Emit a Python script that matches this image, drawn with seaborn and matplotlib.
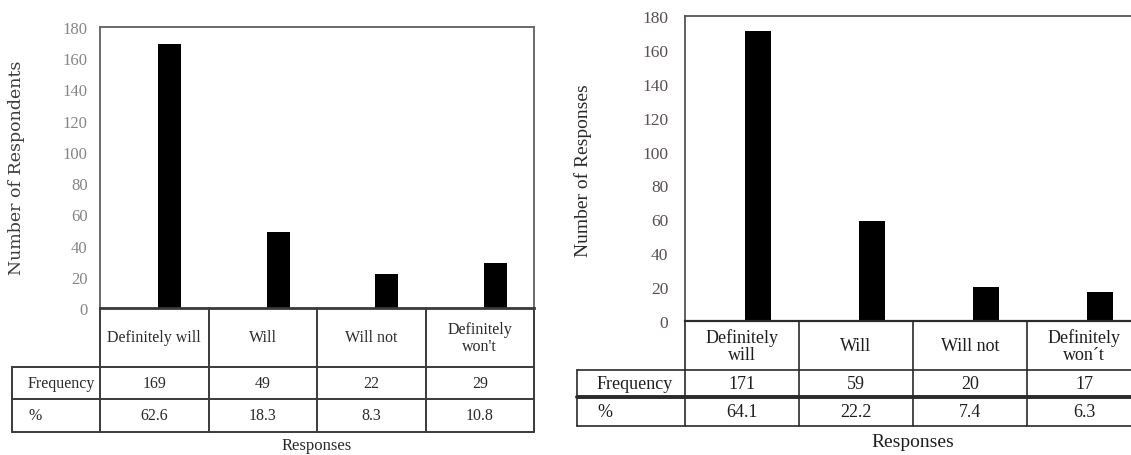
import matplotlib
matplotlib.use("Agg")
import matplotlib.pyplot as plt
import seaborn as sns
import pandas as pd

# ---- data -------------------------------------------------------------
cats_left = ["Definitely will", "Will", "Will not", "Definitely\nwon't"]
freq_left = [169, 49, 22, 29]
pct_left = ["62.6", "18.3", "8.3", "10.8"]

cats_right = ["Definitely\nwill", "Will", "Will not", "Definitely\nwon\u00b4t"]
freq_right = [171, 59, 20, 17]
pct_right = ["64.1", "22.2", "7.4", "6.3"]

y_ticks = list(range(0, 181, 20))

sns.set_style("white")
plt.rcParams["font.family"] = ["Liberation Serif", "DejaVu Serif"]

W, H = 1131, 456
fig = plt.figure(figsize=(W / 100, H / 100), dpi=100)


def box(x0, y0, x1, y1):
    """Pixel box (top-left origin) -> figure fraction rect."""
    return [x0 / W, 1 - y1 / H, (x1 - x0) / W, (y1 - y0) / H]


def panel(cats, freqs, pcts, bar_box, lab_left, rows, bar_w, offset,
          ylabel, style):
    x0, y0, x1, y1 = bar_box
    ax = fig.add_axes(box(x0, y0, x1, y1))
    df = pd.DataFrame({"resp": cats, "n": freqs})
    sns.barplot(data=df, x="resp", y="n", ax=ax, color="black",
                saturation=1, width=bar_w, linewidth=0, order=cats)
    ax.set_xlim(-0.5 - offset, 3.5 - offset)
    ax.set_ylim(0, 180)
    ax.set_yticks(y_ticks)
    ax.set_xticks([])
    ax.set_xlabel("")
    ax.set_ylabel("")
    ax.tick_params(axis="y", length=0, pad=style["tick_pad"],
                   labelsize=style["tick_size"], labelcolor=style["tick_color"])
    for s in ax.spines.values():
        s.set_color(style["frame_color"])
        s.set_linewidth(style["frame_lw"])
    ax.spines["bottom"].set_linewidth(style["zero_lw"])
    ax.spines["bottom"].set_color(style["line_color"])
    fig.text(style["ylab_x"] / W, 1 - style["ylab_y"] / H, ylabel,
             rotation=90, ha="center", va="center",
             fontsize=style["ylab_size"], color=style["ylab_color"],
             family=style["ylab_family"])

    # table under the bars, one column per category
    cell = (x1 - x0) / 4
    lab_w = (x0 - lab_left) / cell
    total = sum(rows)
    tax = fig.add_axes(box(lab_left, y1, x1, y1 + total))
    tax.set_xlim(-lab_w, 4)
    tax.set_ylim(total, 0)
    tax.axis("off")
    lc, lw = style["line_color"], style["line_w"]
    r1 = rows[0]
    r2 = rows[0] + rows[1]
    tax.plot([-lab_w, 4], [r1, r1], color=lc, lw=lw, clip_on=False)
    tax.plot([-lab_w, 4], [r2, r2], color=lc, lw=style["mid_lw"], clip_on=False)
    tax.plot([-lab_w, 4], [total, total], color=lc, lw=lw, clip_on=False)
    tax.plot([-lab_w, -lab_w], [r1, total], color=lc, lw=lw, clip_on=False)
    for k in range(5):
        tax.plot([k, k], [0, total], color=lc, lw=lw, clip_on=False)
    fs = style["cell_size"]
    tc = style["text_color"]
    for i, c in enumerate(cats):
        tax.text(i + 0.5, r1 / 2, c, ha="center", va="center", fontsize=fs,
                 color=tc, linespacing=1.05)
        tax.text(i + 0.5, (r1 + r2) / 2, str(freqs[i]), ha="center",
                 va="center", fontsize=fs, color=tc)
        tax.text(i + 0.5, (r2 + total) / 2, pcts[i], ha="center",
                 va="center", fontsize=fs, color=tc)
    pad = style["row_pad"] / cell
    tax.text(-lab_w + pad, (r1 + r2) / 2, "Frequency", ha="left",
             va="center", fontsize=fs, color=tc)
    tax.text(-lab_w + pad, (r2 + total) / 2, "%", ha="left",
             va="center", fontsize=fs, color=tc)
    fig.text((x0 + x1) / 2 / W, 1 - style["xlab_y"] / H, "Responses",
             ha="center", va="center", fontsize=style["xlab_size"],
             color=tc)
    return ax


left_style = dict(tick_pad=9, tick_size=12, tick_color="#858585",
                  frame_color="#6a6a6a", frame_lw=1.4, zero_lw=2.0,
                  line_color="#3a3a3a", line_w=1.4, mid_lw=1.4,
                  ylab_x=17, ylab_y=168, ylab_size=12.5,
                  ylab_color="#3c3c3c", ylab_family="DejaVu Serif",
                  cell_size=11.5, text_color="#2a2a2a", row_pad=16,
                  xlab_y=446, xlab_size=12)

right_style = dict(tick_pad=12, tick_size=12.5, tick_color="#5a5050",
                   frame_color="#555555", frame_lw=1.3, zero_lw=1.6,
                   line_color="#2a2a2a", line_w=1.2, mid_lw=2.8,
                   ylab_x=583, ylab_y=171, ylab_size=14,
                   ylab_color="#2a2a2a", ylab_family="Liberation Serif",
                   cell_size=13, text_color="#1e1e1e", row_pad=20,
                   xlab_y=443, xlab_size=14)

panel(cats_left, freq_left, pct_left, (100, 28, 534, 309), 12,
      [59, 32, 33], 0.21, 0.143, "Number of Respondents", left_style)
panel(cats_right, freq_right, pct_right, (685, 17, 1141, 322), 577,
      [49, 27, 29], 0.22, 0.14, "Number of Responses", right_style)

fig.savefig("out.png", dpi=100, facecolor="white")
